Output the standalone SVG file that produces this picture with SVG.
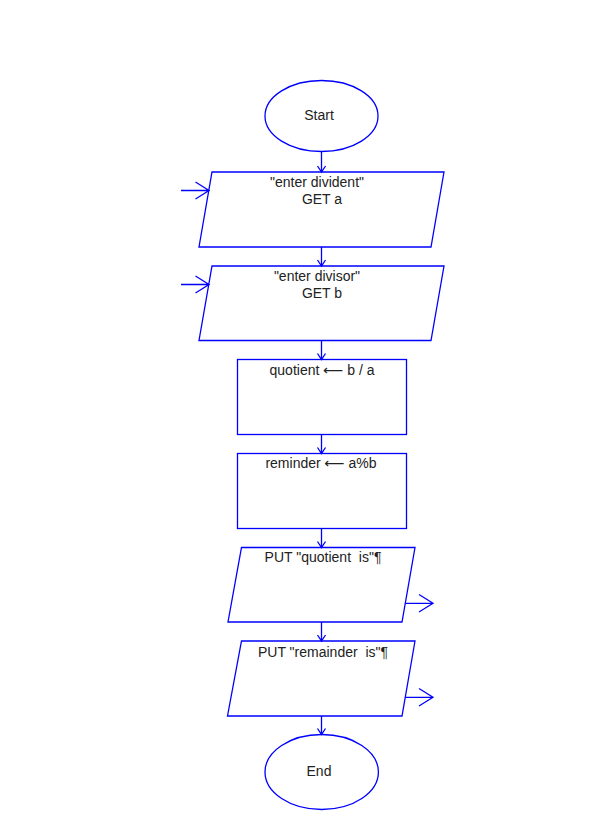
<svg xmlns="http://www.w3.org/2000/svg" width="597" height="840" viewBox="0 0 597 840">
<style>
.s{fill:#fff;stroke:#0000ff;stroke-width:1.3}
.c{fill:none;stroke:#0000ff;stroke-width:1.3}
.t{font-family:"Liberation Sans",Arial,sans-serif;font-size:14px;fill:#222;text-anchor:middle;white-space:pre}
.a{font-family:"DejaVu Sans",sans-serif}
</style>
<rect width="597" height="840" fill="#fff"/>
<g id="start"><ellipse class="s" cx="321.5" cy="116" rx="56.5" ry="35.5"/><text class="t" x="319" y="119.5">Start</text></g>
<g id="input1"><polygon class="s" points="212,172 444,172 431,247 199,247"/><text class="t" x="317" y="187">"enter divident"</text><text class="t" x="322" y="204">GET a</text></g>
<g id="input2"><polygon class="s" points="212,266 444,266 431,340.5 199,340.5"/><text class="t" x="317" y="280.5">"enter divisor"</text><text class="t" x="322" y="298">GET b</text></g>
<g id="assign1"><rect class="s" x="237.5" y="359.5" width="169" height="75"/><text class="t" x="322" y="375">quotient <tspan class="a">⟵</tspan> b / a</text></g>
<g id="assign2"><rect class="s" x="237.5" y="453.5" width="169" height="75"/><text class="t" x="321" y="468">reminder <tspan class="a">⟵</tspan> a%b</text></g>
<g id="output1"><polygon class="s" points="241.5,547.5 415,547.5 402,622 228,622"/><text class="t" x="323" y="562" xml:space="preserve">PUT "quotient  is"¶</text></g>
<g id="output2"><polygon class="s" points="241.5,641 415,641 402,716 227.5,716"/><text class="t" x="323" y="657" xml:space="preserve">PUT "remainder  is"¶</text></g>
<g id="end"><ellipse class="s" cx="321.7" cy="772" rx="56.7" ry="37.5"/><text class="t" x="319" y="776">End</text></g>
<g id="connectors">
<path class="c" d="M321.5,151.5V172M317.5,166L321.5,172L325.5,166"/>
<path class="c" d="M321.5,247V266M317.5,260L321.5,266L325.5,260"/>
<path class="c" d="M321.5,340.5V359.5M317.5,353.5L321.5,359.5L325.5,353.5"/>
<path class="c" d="M321.5,434.5V453.5M317.5,447.5L321.5,453.5L325.5,447.5"/>
<path class="c" d="M321.5,528.5V547.5M317.5,541.5L321.5,547.5L325.5,541.5"/>
<path class="c" d="M321.5,622V641M317.5,635L321.5,641L325.5,635"/>
<path class="c" d="M321.5,716V734.5M317.5,728.5L321.5,734.5L325.5,728.5"/>
<path class="c" d="M181,190.5H209M195.5,182L209,190.5L195.5,199"/>
<path class="c" d="M181,284.5H209M195.5,276L209,284.5L195.5,293"/>
<path class="c" d="M405.3,603.3H433M419,594.5L433,603.3L419,612"/>
<path class="c" d="M405.2,697.3H433M419,688.5L433,697.3L419,706"/>
</g>
</svg>
